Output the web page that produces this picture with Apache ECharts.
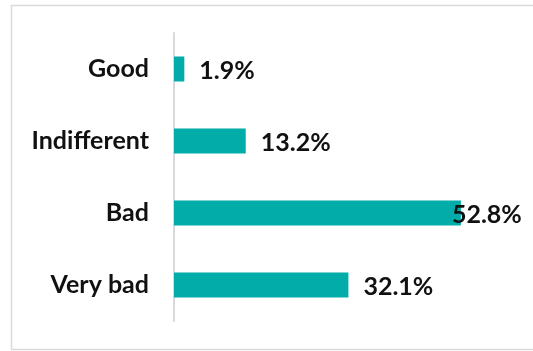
<!DOCTYPE html>
<html>
<head>
<meta charset="utf-8">
<style>
  html, body { margin: 0; padding: 0; background: #fff; }
  #chart { width: 533px; height: 351px; }
</style>
<script src="https://cdn.jsdelivr.net/npm/echarts@6/dist/echarts.min.js"></script>
</head>
<body>
<div id="chart"></div>
<script>
// Survey answers, top to bottom
const categories = ['Good', 'Indifferent', 'Bad', 'Very bad'];
const shares = [1.9, 13.2, 52.8, 32.1];

const chart = echarts.init(document.getElementById('chart'), null, { renderer: 'canvas' });

const font = 'Lato, "Open Sans", sans-serif';

chart.setOption({
  animation: false,
  backgroundColor: '#fff',
  graphic: [{
    type: 'rect',
    shape: { x: 11.5, y: 5.5, width: 540, height: 344 },
    style: { fill: 'none', stroke: '#d9d9d9', lineWidth: 1.5 },
    silent: true
  }],
  grid: { left: 174, right: 33, top: 33, bottom: 30, containLabel: false },
  xAxis: {
    type: 'value',
    min: 0,
    max: 60,
    show: false
  },
  yAxis: {
    type: 'category',
    data: categories,
    inverse: true,
    axisLine: { show: true, lineStyle: { color: '#d9d9d9', width: 2 } },
    axisTick: { show: false },
    axisLabel: {
      margin: 25,
      color: '#111',
      fontFamily: font,
      fontWeight: 'bold',
      fontSize: 25
    }
  },
  series: [{
    type: 'bar',
    barWidth: 25,
    itemStyle: { color: '#02aca8' },
    data: shares.map((v, i) => ({
      value: v,
      label: categories[i] === 'Bad' ? { offset: [-24, 2] } : { offset: [0, 2] }
    })),
    label: {
      show: true,
      position: 'right',
      distance: 15,
      color: '#111',
      fontFamily: font,
      fontWeight: 'bold',
      fontSize: 25,
      formatter: p => p.value.toFixed(1) + '%'
    }
  }]
});
</script>
</body>
</html>
